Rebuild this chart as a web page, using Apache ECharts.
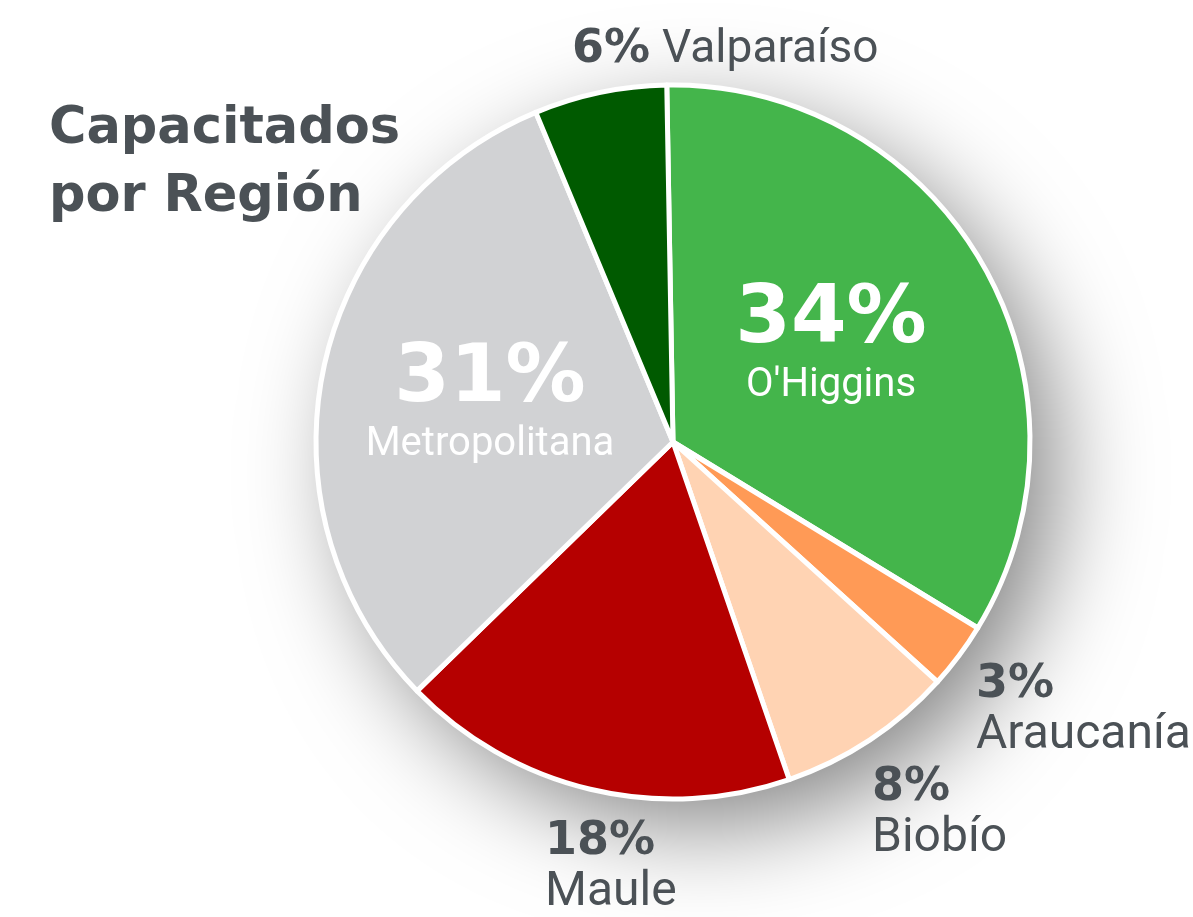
<!DOCTYPE html>
<html style="height: 100%">
<head>
<meta charset="utf-8">
<script src="https://cdn.jsdelivr.net/npm/echarts@6/dist/echarts.min.js"></script>
</head>
<body style="height: 100%; margin: 0; background: #fff">
<div id="container" style="width: 1193px; height: 917px"></div>
<script type="text/javascript">

// regions, clockwise from the top
var regions = ['O\'Higgins', 'Araucanía', 'Biobío', 'Maule', 'Metropolitana', 'Valparaíso'];
var shares = [34, 3, 8, 18, 31, 6];
var colors = ['#44b54b', '#ff9a56', '#ffd3b3', '#b50000', '#d1d2d4', '#005a00'];

var textGray = '#4b5156';
var pctFont = '"DejaVu Sans", sans-serif';
var nameFont = 'Roboto, sans-serif';

// where each label goes: [x, y, align] (y is the middle of the block)
var labelSpots = {
    'O\'Higgins': [831, 343, 'center'],
    'Araucanía': [976, 710, 'left'],
    'Biobío': [872, 813, 'left'],
    'Maule': [545, 867, 'left'],
    'Metropolitana': [490, 402, 'center'],
    'Valparaíso': [572, 50, 'left']
};
var insideNames = ['O\'Higgins', 'Metropolitana'];

var pieData = regions.map(function (name, i) {
    var inside = insideNames.indexOf(name) >= 0;
    var item = {
        name: name,
        value: shares[i],
        itemStyle: {color: colors[i]}
    };
    if (inside) {
        item.label = {formatter: '{big|{c}%}\n{nameIn|{b}}', align: 'center'};
    } else if (name === 'Valparaíso') {
        item.label = {formatter: '{pct|{c}%}{nameSide|{b}}', align: 'left'};
    } else {
        item.label = {formatter: '{pct|{c}%}\n{nameOut|{b}}', align: 'left'};
    }
    return item;
});

var dom = document.getElementById('container');
var myChart = echarts.init(dom);

var option = {
    animation: false,
    title: {
        text: 'Capacitados\npor Región',
        left: 44,
        top: 91,
        textStyle: {
            fontFamily: pctFont,
            fontWeight: 'bold',
            fontSize: 51,
            lineHeight: 68,
            color: textGray
        }
    },
    series: [
        {
            // shadow disc behind the pie
            type: 'pie',
            silent: true,
            center: [673, 442],
            radius: 352,
            label: {show: false},
            labelLine: {show: false},
            itemStyle: {
                color: '#ffffff',
                shadowBlur: 100,
                shadowOffsetX: 28,
                shadowOffsetY: 30,
                shadowColor: 'rgba(0,0,0,0.5)'
            },
            data: [{value: 1, name: 'bg'}]
        },
        {
            type: 'pie',
            center: [673, 442],
            radius: 357,
            startAngle: 91,
            clockwise: true,
            itemStyle: {
                borderColor: '#ffffff',
                borderWidth: 5
            },
            labelLine: {show: false},
            label: {
                show: true,
                position: 'inside',
                rich: {
                    big: {
                        fontFamily: pctFont,
                        fontWeight: 'bold',
                        fontSize: 80,
                        lineHeight: 86,
                        color: '#ffffff'
                    },
                    nameIn: {
                        fontFamily: nameFont,
                        fontSize: 40,
                        lineHeight: 44,
                        color: '#ffffff'
                    },
                    pct: {
                        fontFamily: pctFont,
                        fontWeight: 'bold',
                        fontSize: 46,
                        lineHeight: 52,
                        color: textGray
                    },
                    nameOut: {
                        fontFamily: nameFont,
                        fontSize: 48,
                        lineHeight: 50,
                        color: textGray
                    },
                    nameSide: {
                        fontFamily: nameFont,
                        fontSize: 46,
                        lineHeight: 50,
                        padding: [0, 0, 0, 12],
                        color: textGray
                    }
                }
            },
            labelLayout: function (params) {
                var spot = labelSpots[regions[params.dataIndex]];
                return {
                    x: spot[0],
                    y: spot[1],
                    align: spot[2],
                    verticalAlign: 'middle'
                };
            },
            data: pieData
        }
    ]
};

myChart.setOption(option);

</script>
</body>
</html>
